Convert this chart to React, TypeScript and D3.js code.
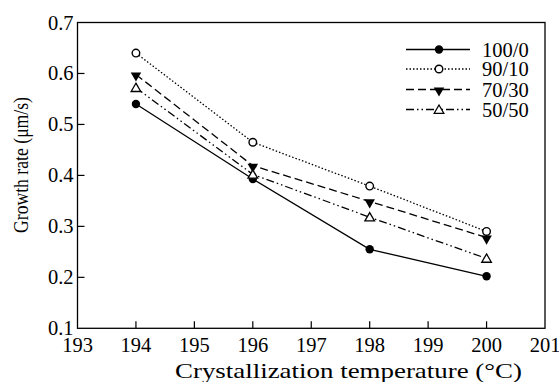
import React from "react";
import * as d3 from "d3";

const temperatures = [194, 196, 198, 200];
const series100_0 = [0.54, 0.393, 0.255, 0.202];
const series90_10 = [0.64, 0.465, 0.379, 0.29];
const series70_30 = [0.598, 0.419, 0.349, 0.278];
const series50_50 = [0.572, 0.402, 0.318, 0.237];
const seriesNames = ["100/0", "90/10", "70/30", "50/50"];
const xTicks = [193, 194, 195, 196, 197, 198, 199, 200, 201];
const yTicks = [0.1, 0.2, 0.3, 0.4, 0.5, 0.6, 0.7];

const W = 559;
const H = 382;
const left = 77.5;
const right = 545;
const top = 22.5;
const bottom = 328.3;

const x = d3.scaleLinear().domain([193, 201]).range([left, right]);
const y = d3.scaleLinear().domain([0.1, 0.7]).range([bottom, top]);

const styles = [
  { dash: "none", marker: "filledCircle" },
  { dash: "1.5,2", marker: "openCircle" },
  { dash: "8,4", marker: "filledDown" },
  { dash: "8,3,1.5,3,1.5,3", marker: "openUp" },
];

const allSeries = [series100_0, series90_10, series70_30, series50_50];

function Marker({ kind, cx, cy }: { kind: string; cx: number; cy: number }) {
  const sym = d3.symbol();
  if (kind === "filledCircle")
    return <circle cx={cx} cy={cy} r={4.2} fill="#000" stroke="none" />;
  if (kind === "openCircle")
    return <circle cx={cx} cy={cy} r={3.8} fill="#fff" stroke="#000" strokeWidth={1.4} />;
  if (kind === "filledDown") {
    const p = sym.type(d3.symbolTriangle).size(48)();
    return <path d={p || ""} transform={`translate(${cx},${cy + 1}) rotate(180)`} fill="#000" />;
  }
  const p = sym.type(d3.symbolTriangle).size(40)();
  return <path d={p || ""} transform={`translate(${cx},${cy + 1})`} fill="#fff" stroke="#000" strokeWidth={1.3} />;
}

const textStyle = { fontFamily: '"Liberation Serif"' };

export default function App() {
  const line = d3
    .line<[number, number]>()
    .x((d) => x(d[0]))
    .y((d) => y(d[1]));
  const legendX0 = 406;
  const legendX1 = 470;
  const legendY = [49.5, 69, 89.5, 109.5];
  return (
    <svg width={W} height={H} style={{ position: "absolute", left: 0, top: 0 }}>
      <rect x={0} y={0} width={W} height={H} fill="#fff" />
      <rect x={left} y={top} width={right - left} height={bottom - top} fill="none" stroke="#000" strokeWidth={1.3} />
      {xTicks.map((t) => (
        <g key={"x" + t}>
          {t > 193 && t < 201 && (
            <line x1={x(t)} x2={x(t)} y1={bottom} y2={bottom - 7} stroke="#000" strokeWidth={1.2} />
          )}
          <text x={x(t)} y={351.5} textAnchor="middle" fontSize={20.5} fill="#000" style={textStyle}>
            {String(t)}
          </text>
        </g>
      ))}
      {yTicks.map((t) => (
        <g key={"y" + t}>
          {t > 0.1 && t < 0.7 && (
            <line x1={left} x2={left + 7} y1={y(t)} y2={y(t)} stroke="#000" strokeWidth={1.2} />
          )}
          <text x={73.5} y={y(t) + 7} textAnchor="end" fontSize={20.5} fill="#000" style={textStyle}>
            {t.toFixed(1)}
          </text>
        </g>
      ))}
      <text
        x={175}
        y={377.5}
        fontSize={21}
        textLength={347}
        lengthAdjust="spacingAndGlyphs"
        fill="#000"
        style={textStyle}
      >
        Crystallization temperature (°C)
      </text>
      <text
        transform="translate(27.5,233) rotate(-90)"
        fontSize={20.5}
        textLength={136}
        lengthAdjust="spacingAndGlyphs"
        fill="#000"
        style={textStyle}
      >
        Growth rate (μm/s)
      </text>
      {allSeries.map((vals, i) => {
        const pts = temperatures.map((t, j) => [t, vals[j]] as [number, number]);
        return (
          <g key={"s" + i}>
            <path
              d={line(pts) || ""}
              fill="none"
              stroke="#000"
              strokeWidth={1.3}
              strokeDasharray={styles[i].dash}
            />
            {pts.map((p, j) => (
              <Marker key={j} kind={styles[i].marker} cx={x(p[0])} cy={y(p[1])} />
            ))}
          </g>
        );
      })}
      {seriesNames.map((name, i) => (
        <g key={"l" + i}>
          <line
            x1={legendX0}
            x2={legendX1}
            y1={legendY[i]}
            y2={legendY[i]}
            stroke="#000"
            strokeWidth={1.6}
            strokeDasharray={styles[i].dash}
          />
          <Marker kind={styles[i].marker} cx={(legendX0 + legendX1) / 2 + 1} cy={legendY[i]} />
          <text x={482} y={legendY[i] + 7} fontSize={20.5} fill="#000" style={textStyle}>
            {name}
          </text>
        </g>
      ))}
    </svg>
  );
}
